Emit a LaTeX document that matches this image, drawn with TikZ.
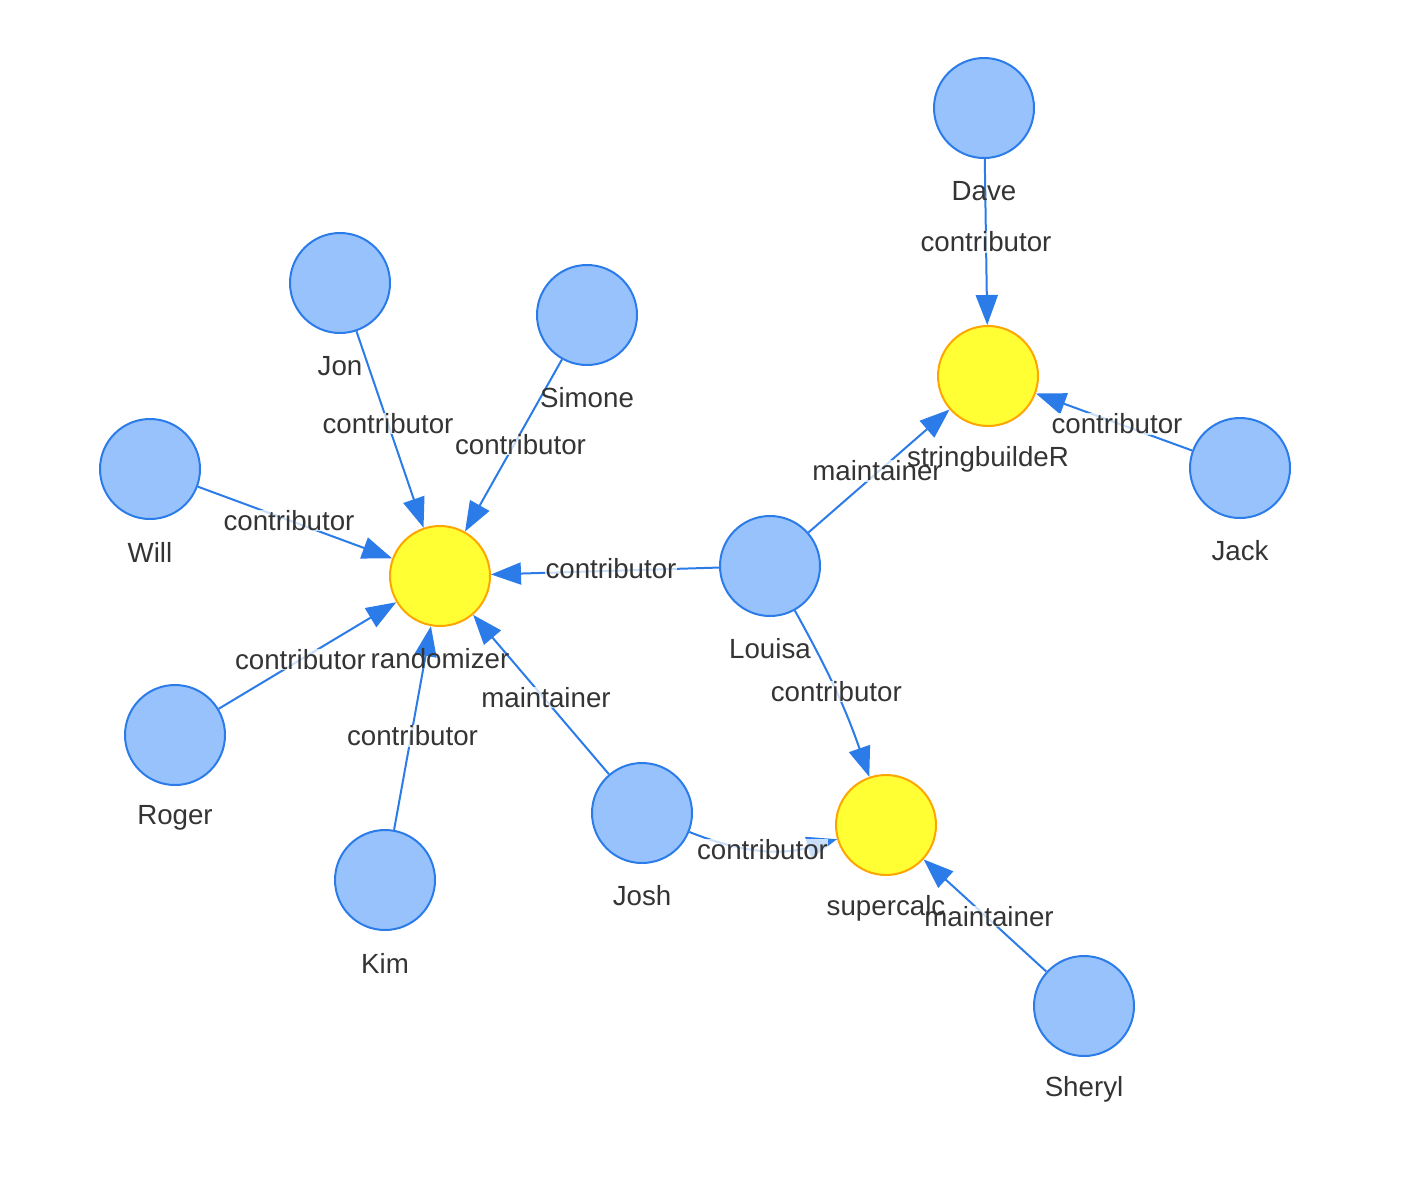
\documentclass[tikz,border=0pt]{standalone}
\usepackage{fontspec}
\setmainfont{Liberation Sans}
\usetikzlibrary{arrows.meta}
\definecolor{pfill}{HTML}{97C2FC}
\definecolor{pborder}{HTML}{2B7CE9}
\definecolor{yfill}{HTML}{FFFF33}
\definecolor{yborder}{HTML}{FFA500}
\definecolor{txt}{HTML}{343434}
\tikzset{
  person/.style={circle, fill=pfill, draw=pborder, line width=2pt, minimum size=100pt, inner sep=0pt},
  pkg/.style={circle, fill=yfill, draw=yborder, line width=2pt, minimum size=100pt, inner sep=0pt},
  lbl/.style={text=txt, font=\fontsize{27.7}{33}\selectfont, inner sep=0pt, anchor=center},
  edge/.style={draw=pborder, line width=2pt, -{Triangle[length=30pt,width=22pt]}},
  elbl/.style={text=txt, font=\fontsize{27.7}{33}\selectfont, inner sep=0.5pt, midway,
    fill=white, fill opacity=0.75, text opacity=1}
}
\begin{document}
\begin{tikzpicture}[x=1pt,y=-1pt]
\useasboundingbox (0,0) rectangle (1408,1176);
% packages
\node[pkg] (sb) at (988,376) {};
\node[pkg] (rnd) at (440,576) {};
\node[pkg] (sc) at (886,825) {};
% people
\node[person] (dave) at (984,108) {};
\node[person] (jack) at (1240,468) {};
\node[person] (louisa) at (770,566) {};
\node[person] (jon) at (340,283) {};
\node[person] (simone) at (587,315) {};
\node[person] (will) at (150,469) {};
\node[person] (roger) at (175,735) {};
\node[person] (kim) at (385,880) {};
\node[person] (josh) at (642,813) {};
\node[person] (sheryl) at (1084,1006) {};
% edges
\draw[edge] (dave) -- node[elbl]{contributor} (sb);
\draw[edge] (jack) -- node[elbl, xshift=3pt, yshift=-2pt]{contributor} (sb);
\draw[edge] (louisa) -- node[elbl, xshift=-2pt]{maintainer} (sb);
\draw[edge] (jon) -- node[elbl, xshift=-2pt, yshift=6pt]{contributor} (rnd);
\draw[edge] (simone) -- node[elbl, xshift=7pt, yshift=1pt]{contributor} (rnd);
\draw[edge] (will) -- node[elbl, xshift=-6pt, yshift=2pt]{contributor} (rnd);
\draw[edge] (louisa) -- node[elbl, xshift=6pt, yshift=2pt]{contributor} (rnd);
\draw[edge] (roger) -- node[elbl, xshift=-7pt, yshift=-4pt]{contributor} (rnd);
\draw[edge] (kim) -- node[elbl, yshift=-8pt]{contributor} (rnd);
\draw[edge] (josh) -- node[elbl, xshift=5pt, yshift=-3pt]{maintainer} (rnd);
\draw[edge] (louisa) to[bend left=5] node[elbl]{contributor} (sc);
\draw[edge] (josh) to[bend right=19] node[elbl]{contributor} (sc);
\draw[edge] (sheryl) -- node[elbl, xshift=4pt, yshift=-1pt]{maintainer} (sc);
% node labels
\node[lbl] (sbL) at ([yshift=-32pt]sb.south) {stringbuildeR};
\node[lbl] (rndL) at ([yshift=-32pt]rnd.south) {randomizer};
\node[lbl] (scL) at ([yshift=-32pt]sc.south) {supercalc};
\node[lbl] (daveL) at ([yshift=-32pt]dave.south) {Dave};
\node[lbl] (jackL) at ([yshift=-32pt]jack.south) {Jack};
\node[lbl] (louisaL) at ([yshift=-32pt]louisa.south) {Louisa};
\node[lbl] (jonL) at ([yshift=-32pt]jon.south) {Jon};
\node[lbl] (simoneL) at ([yshift=-32pt]simone.south) {Simone};
\node[lbl] (willL) at ([yshift=-32pt]will.south) {Will};
\node[lbl] (rogerL) at ([yshift=-32pt]roger.south) {Roger};
\node[lbl] (kimL) at ([yshift=-32pt]kim.south) {Kim};
\node[lbl] (joshL) at ([yshift=-32pt]josh.south) {Josh};
\node[lbl] (sherylL) at ([yshift=-32pt]sheryl.south) {Sheryl};
\end{tikzpicture}
\end{document}
